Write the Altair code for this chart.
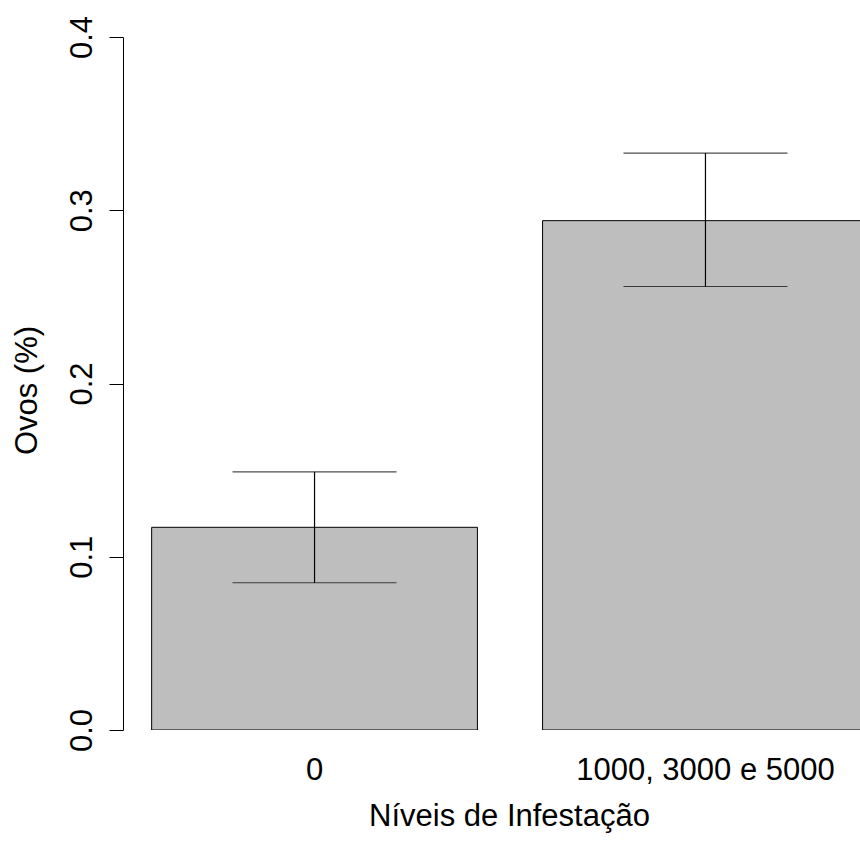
import altair as alt
import pandas as pd

categories = ["0", "1000, 3000 e 5000"]
means = [0.117, 0.294]
lower = [0.085, 0.256]
upper = [0.149, 0.333]

df = pd.DataFrame({"cat": categories, "mean": means, "lo": lower, "hi": upper})

FONT = "Liberation Sans"
FS = 31

xscale = alt.Scale(domain=categories, range=[0, 774], paddingInner=0.16667, paddingOuter=0.0733)
yscale = alt.Scale(domain=[0, 0.4], nice=False, zero=True)

xenc = alt.X(
    "cat:N", scale=xscale, sort=categories,
    axis=alt.Axis(
        title="Níveis de Infestação", labelAngle=0, domain=False, ticks=False, tickSize=0,
        labelFont=FONT, labelFontSize=FS, labelColor="black", labelPadding=49,
        labelBaseline="alphabetic", labelAlign="center", labelLimit=0, labelOverlap=False,
        titleFont=FONT, titleFontSize=FS, titleFontWeight="normal", titleColor="black",
        titleX=386, titleY=95, titleBaseline="alphabetic", titleAlign="center",
    ),
)

yaxis = alt.Axis(
    title="Ovos (%)", values=[0, 0.1, 0.2, 0.3, 0.4], format=".1f", grid=False,
    domainColor="black", domainWidth=1, tickColor="black", tickWidth=1, tickSize=14,
    labelFont=FONT, labelFontSize=FS, labelColor="black", labelAngle=270,
    labelAlign="center", labelBaseline="alphabetic", labelPadding=18, labelFlush=False,
    labelOverlap=False,
    titleFont=FONT, titleFontSize=FS, titleFontWeight="normal", titleColor="black",
    titleAngle=270, titleX=-87, titleY=353, titleAlign="center", titleBaseline="alphabetic",
)

bars = alt.Chart(df).mark_bar(fill="#BEBEBE", stroke="black", strokeWidth=1, clip=True).encode(
    x=xenc,
    y=alt.Y("mean:Q", scale=yscale, axis=yaxis),
)

stems = alt.Chart(df).mark_rule(color="black", strokeWidth=1.2).encode(
    x=alt.X("cat:N", scale=xscale, sort=categories),
    y=alt.Y("lo:Q", scale=yscale),
    y2="hi:Q",
)

cap_lo = alt.Chart(df).mark_tick(color="black", thickness=1.2, size=164).encode(
    x=alt.X("cat:N", scale=xscale, sort=categories),
    y=alt.Y("lo:Q", scale=yscale),
)
cap_hi = alt.Chart(df).mark_tick(color="black", thickness=1.2, size=164).encode(
    x=alt.X("cat:N", scale=xscale, sort=categories),
    y=alt.Y("hi:Q", scale=yscale),
)

chart = alt.layer(bars, stems, cap_lo, cap_hi).properties(
    width=737, height=693,
    autosize=alt.AutoSizeParams(type="none"),
    padding={"left": 123, "top": 37, "right": 0, "bottom": 111},
    background="white",
).configure_view(stroke=None)

chart.save("out.html", embed_options={"renderer": "svg", "actions": False})
